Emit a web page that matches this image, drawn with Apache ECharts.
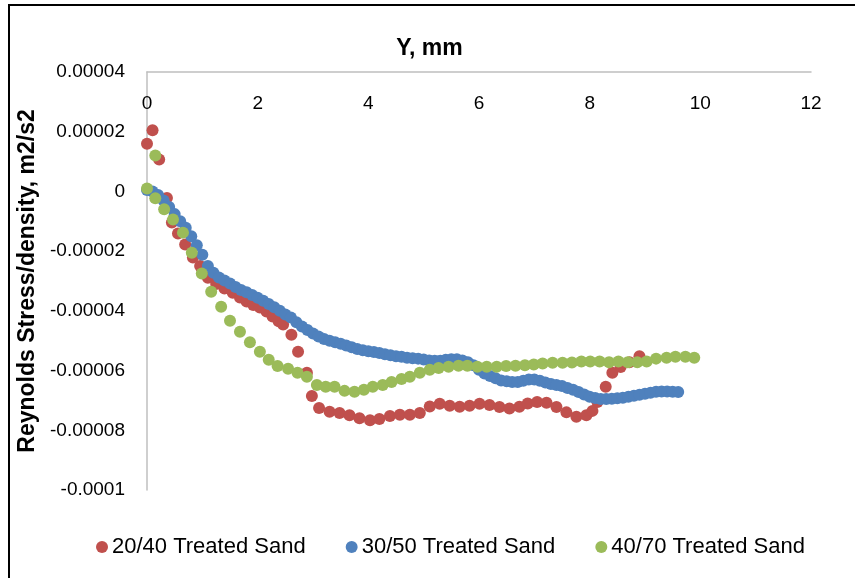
<!DOCTYPE html>
<html>
<head>
<meta charset="utf-8">
<title>Reynolds Stress</title>
<script src="https://cdn.jsdelivr.net/npm/echarts@6/dist/echarts.min.js"></script>
<style>
  html, body { margin: 0; padding: 0; background: #fff; }
  #chart { width: 859px; height: 578px; }
</style>
</head>
<body>
<div id="chart"></div>
<script>
'use strict';

/* ── Data (x in mm, y in m2/s2) ── */
const seriesNames = ['20/40 Treated Sand', '30/50 Treated Sand', '40/70 Treated Sand'];

const sand2040 = [
  [0.00, 1.60e-5], [0.10, 2.05e-5], [0.22, 1.07e-5], [0.36, -0.22e-5], [0.45, -1.04e-5],
  [0.56, -1.41e-5], [0.69, -1.78e-5], [0.83, -2.21e-5], [0.96, -2.50e-5], [1.10, -2.89e-5],
  [1.25, -3.10e-5], [1.40, -3.25e-5], [1.55, -3.39e-5], [1.68, -3.55e-5], [1.80, -3.69e-5],
  [1.92, -3.80e-5], [2.04, -3.89e-5], [2.16, -4.02e-5], [2.27, -4.19e-5], [2.38, -4.35e-5],
  [2.46, -4.46e-5], [2.61, -4.80e-5], [2.73, -5.37e-5], [2.89, -6.07e-5], [2.98, -6.85e-5],
  [3.11, -7.25e-5], [3.30, -7.38e-5], [3.48, -7.42e-5], [3.66, -7.50e-5], [3.84, -7.60e-5],
  [4.03, -7.66e-5], [4.20, -7.62e-5], [4.39, -7.52e-5], [4.57, -7.48e-5], [4.75, -7.48e-5],
  [4.93, -7.42e-5], [5.11, -7.20e-5], [5.29, -7.11e-5], [5.47, -7.18e-5], [5.65, -7.21e-5],
  [5.83, -7.18e-5], [6.01, -7.11e-5], [6.19, -7.15e-5], [6.37, -7.22e-5], [6.55, -7.27e-5],
  [6.73, -7.21e-5], [6.88, -7.10e-5], [7.05, -7.05e-5], [7.22, -7.08e-5], [7.40, -7.22e-5],
  [7.58, -7.40e-5], [7.76, -7.55e-5], [7.94, -7.50e-5], [8.05, -7.35e-5], [8.14, -7.05e-5],
  [8.29, -6.54e-5], [8.41, -6.07e-5], [8.56, -5.88e-5], [8.72, -5.72e-5], [8.90, -5.52e-5]
];

const sand3050 = [
  [0.0, 0.05e-5], [0.1, 0.00e-5], [0.2, -0.12e-5], [0.3, -0.30e-5], [0.4, -0.52e-5],
  [0.5, -0.76e-5], [0.6, -1.00e-5], [0.7, -1.22e-5], [0.8, -1.50e-5], [0.9, -1.80e-5],
  [1.0, -2.12e-5], [1.1, -2.50e-5], [1.2, -2.72e-5], [1.3, -2.88e-5], [1.4, -2.98e-5],
  [1.5, -3.08e-5], [1.6, -3.20e-5], [1.7, -3.30e-5], [1.8, -3.38e-5], [1.9, -3.47e-5],
  [2.0, -3.56e-5], [2.1, -3.66e-5], [2.2, -3.77e-5], [2.3, -3.88e-5], [2.4, -4.00e-5],
  [2.5, -4.12e-5], [2.6, -4.22e-5], [2.7, -4.38e-5], [2.8, -4.52e-5], [2.9, -4.64e-5],
  [3.0, -4.76e-5], [3.1, -4.86e-5], [3.2, -4.94e-5], [3.3, -5.00e-5], [3.4, -5.05e-5],
  [3.5, -5.10e-5], [3.6, -5.16e-5], [3.7, -5.22e-5], [3.8, -5.28e-5], [3.9, -5.32e-5],
  [4.0, -5.35e-5], [4.1, -5.38e-5], [4.2, -5.41e-5], [4.3, -5.45e-5], [4.4, -5.49e-5],
  [4.5, -5.52e-5], [4.6, -5.54e-5], [4.7, -5.57e-5], [4.8, -5.59e-5], [4.9, -5.60e-5],
  [5.0, -5.63e-5], [5.1, -5.66e-5], [5.2, -5.67e-5], [5.3, -5.67e-5], [5.4, -5.64e-5],
  [5.5, -5.62e-5], [5.6, -5.62e-5], [5.7, -5.66e-5], [5.8, -5.72e-5], [5.9, -5.82e-5],
  [6.0, -5.97e-5], [6.1, -6.10e-5], [6.2, -6.18e-5], [6.3, -6.26e-5], [6.4, -6.33e-5],
  [6.5, -6.36e-5], [6.6, -6.38e-5], [6.7, -6.38e-5], [6.8, -6.34e-5], [6.9, -6.30e-5],
  [7.0, -6.30e-5], [7.1, -6.34e-5], [7.2, -6.40e-5], [7.3, -6.45e-5], [7.4, -6.48e-5],
  [7.5, -6.52e-5], [7.6, -6.58e-5], [7.7, -6.64e-5], [7.8, -6.72e-5], [7.9, -6.80e-5],
  [8.0, -6.88e-5], [8.1, -6.92e-5], [8.2, -6.95e-5], [8.3, -6.95e-5], [8.4, -6.94e-5],
  [8.5, -6.93e-5], [8.6, -6.91e-5], [8.7, -6.88e-5], [8.8, -6.84e-5], [8.9, -6.81e-5],
  [9.0, -6.78e-5], [9.1, -6.74e-5], [9.2, -6.71e-5], [9.3, -6.70e-5], [9.4, -6.70e-5],
  [9.5, -6.71e-5], [9.6, -6.72e-5]
];

const sand4070 = [
  [0.00, 0.10e-5], [0.15, 1.20e-5], [0.15, -0.23e-5], [0.31, -0.60e-5], [0.47, -0.94e-5],
  [0.65, -1.38e-5], [0.81, -2.05e-5], [0.99, -2.75e-5], [1.16, -3.36e-5], [1.34, -3.86e-5],
  [1.50, -4.33e-5], [1.68, -4.70e-5], [1.86, -5.05e-5], [2.04, -5.37e-5], [2.20, -5.64e-5],
  [2.36, -5.85e-5], [2.55, -5.94e-5], [2.72, -6.07e-5], [2.89, -6.21e-5], [3.07, -6.48e-5],
  [3.23, -6.54e-5], [3.39, -6.54e-5], [3.57, -6.68e-5], [3.75, -6.71e-5], [3.92, -6.64e-5],
  [4.08, -6.54e-5], [4.26, -6.48e-5], [4.42, -6.38e-5], [4.60, -6.28e-5], [4.75, -6.21e-5],
  [4.93, -6.07e-5], [5.11, -5.97e-5], [5.27, -5.91e-5], [5.45, -5.87e-5], [5.63, -5.84e-5],
  [5.79, -5.84e-5], [5.97, -5.87e-5], [6.14, -5.87e-5], [6.32, -5.87e-5], [6.49, -5.85e-5],
  [6.66, -5.84e-5], [6.83, -5.82e-5], [6.99, -5.80e-5], [7.15, -5.76e-5], [7.33, -5.74e-5],
  [7.51, -5.74e-5], [7.68, -5.73e-5], [7.85, -5.70e-5], [8.01, -5.70e-5], [8.18, -5.70e-5],
  [8.35, -5.72e-5], [8.52, -5.70e-5], [8.69, -5.72e-5], [8.86, -5.72e-5], [9.03, -5.70e-5],
  [9.20, -5.60e-5], [9.39, -5.57e-5], [9.55, -5.54e-5], [9.73, -5.54e-5], [9.89, -5.57e-5]
];

const COLORS = ['#C0504D', '#4F81BD', '#9BBB59'];
const FONT = "'Liberation Sans', Arial, sans-serif";
const AXIS_GREY = '#BFBFBF';

const chart = echarts.init(document.getElementById('chart'), null, { renderer: 'canvas' });

function scatter(name, data, color) {
  return {
    name: name,
    type: 'scatter',
    data: data,
    symbol: 'circle',
    symbolSize: 12,
    itemStyle: { color: color, opacity: 1 },
    emphasis: { disabled: true }
  };
}

chart.setOption({
  animation: false,
  backgroundColor: '#fff',
  textStyle: { fontFamily: FONT, color: '#000' },
  grid: { left: 147, right: 48, top: 72, bottom: 88 },
  title: {
    text: 'Y, mm',
    left: 'center',
    top: 32,
    textStyle: { fontFamily: FONT, fontSize: 23, fontWeight: 'bold', color: '#000' }
  },
  graphic: [{
    type: 'polyline',
    shape: { points: [[9, 600], [9, 5], [855, 5]] },
    style: { stroke: '#000', lineWidth: 2, fill: null }
  }],
  legend: {
    left: 91,
    top: 531,
    icon: 'circle',
    itemWidth: 12,
    itemHeight: 12,
    itemGap: 40,
    textStyle: { fontFamily: FONT, fontSize: 22, color: '#000', padding: [0, 0, 0, -1] },
    data: seriesNames
  },
  xAxis: {
    type: 'value',
    position: 'top',
    min: 0,
    max: 12,
    interval: 2,
    axisLine: { onZero: false, lineStyle: { color: AXIS_GREY, width: 1.5 } },
    axisTick: { show: false },
    splitLine: { show: false },
    axisLabel: { inside: true, margin: 22, fontSize: 19, color: '#000', fontFamily: FONT }
  },
  yAxis: {
    type: 'value',
    min: -0.0001,
    max: 0.00004,
    interval: 0.00002,
    name: 'Reynolds Stress/density, m2/s2',
    nameLocation: 'middle',
    nameGap: 100,
    nameTextStyle: { fontFamily: FONT, fontSize: 23, fontWeight: 'bold', color: '#000' },
    axisLine: { show: true, lineStyle: { color: AXIS_GREY, width: 1.5 } },
    axisTick: { show: false },
    splitLine: { show: false },
    axisLabel: {
      margin: 22,
      fontSize: 19,
      color: '#000',
      fontFamily: FONT,
      formatter: v => String(+v.toPrecision(6))
    }
  },
  series: [
    scatter(seriesNames[0], sand2040, COLORS[0]),
    scatter(seriesNames[1], sand3050, COLORS[1]),
    scatter(seriesNames[2], sand4070, COLORS[2])
  ]
});

window.addEventListener('resize', () => chart.resize());
</script>
</body>
</html>
